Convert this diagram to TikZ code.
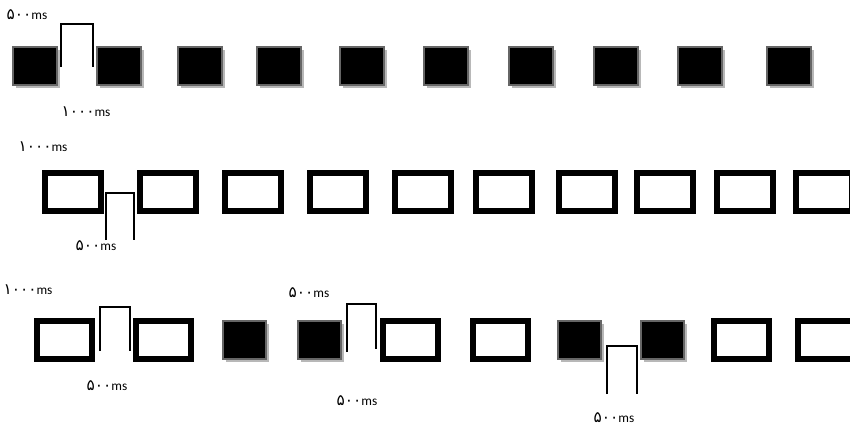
\documentclass[tikz,border=0pt]{standalone}
\usepackage{fontspec}
\setmainfont{Carlito}
\newfontfamily\arabicfont[Script=Arabic,Scale=1.15]{DejaVu Sans}
\usetikzlibrary{shadows}
\newcommand{\fa}[1]{{\arabicfont #1}}
\begin{document}
\begin{tikzpicture}[x=0.02cm, y=-0.02cm, font=\fontsize{7.6}{9}\selectfont,
  onbox/.style={draw=black!60, fill=black, line width=0.04cm, inner sep=0pt,
                minimum width=0.88cm, minimum height=0.76cm,
                drop shadow={shadow xshift=0.06cm, shadow yshift=-0.06cm,
                             fill=black!28, opacity=1}},
  offbox/.style={draw=black, fill=white, line width=0.12cm, inner sep=0pt,
                 minimum width=1.12cm, minimum height=0.76cm},
  gap/.style={line width=0.03cm},
  dur/.style={inner sep=0pt}
]
  \useasboundingbox (0,0) rectangle (850,427);
  % Ligne 1 : carres pleins
  \foreach \x [count=\i] in {35,119,200,279,362,446,531,616,700,789}
    \node[onbox] (s\i) at (\x,66) {};
  \draw[gap] (61,67) -- (61,24) -- (93,24) -- (93,67);
  \node[dur] (t1) at (27,15)  {\fa{۵۰۰}ms};
  \node[dur] (t2) at (86,112) {\fa{۱۰۰۰}ms};
  % Ligne 2 : rectangles vides
  \foreach \x [count=\i] in {73,168,253,338,423,504,587,665,745,824}
    \node[offbox] (h\i) at (\x,192) {};
  \draw[gap] (106,240) -- (106,193) -- (134,193) -- (134,240);
  \node[dur] (t3) at (43,147) {\fa{۱۰۰۰}ms};
  \node[dur] (t4) at (96,246) {\fa{۵۰۰}ms};
  % Ligne 3 : sequence mixte
  \foreach \x/\t [count=\i] in {64.5/offbox,163.5/offbox,244.5/onbox,319.5/onbox,
      410.5/offbox,500.5/offbox,579.5/onbox,662.5/onbox,741.5/offbox,825.5/offbox}
    \node[\t] (m\i) at (\x,340) {};
  \draw[gap] (100,351) -- (100,307) -- (130,307) -- (130,351);
  \draw[gap] (347,352) -- (347,304) -- (376,304) -- (376,349);
  \draw[gap] (607,394) -- (607,346) -- (637,346) -- (637,394);
  \node[dur] (t5) at (28,290)  {\fa{۱۰۰۰}ms};
  \node[dur] (t6) at (107,386) {\fa{۵۰۰}ms};
  \node[dur] (t7) at (309,293) {\fa{۵۰۰}ms};
  \node[dur] (t8) at (357,401) {\fa{۵۰۰}ms};
  \node[dur] (t9) at (614,418) {\fa{۵۰۰}ms};
\end{tikzpicture}
\end{document}
